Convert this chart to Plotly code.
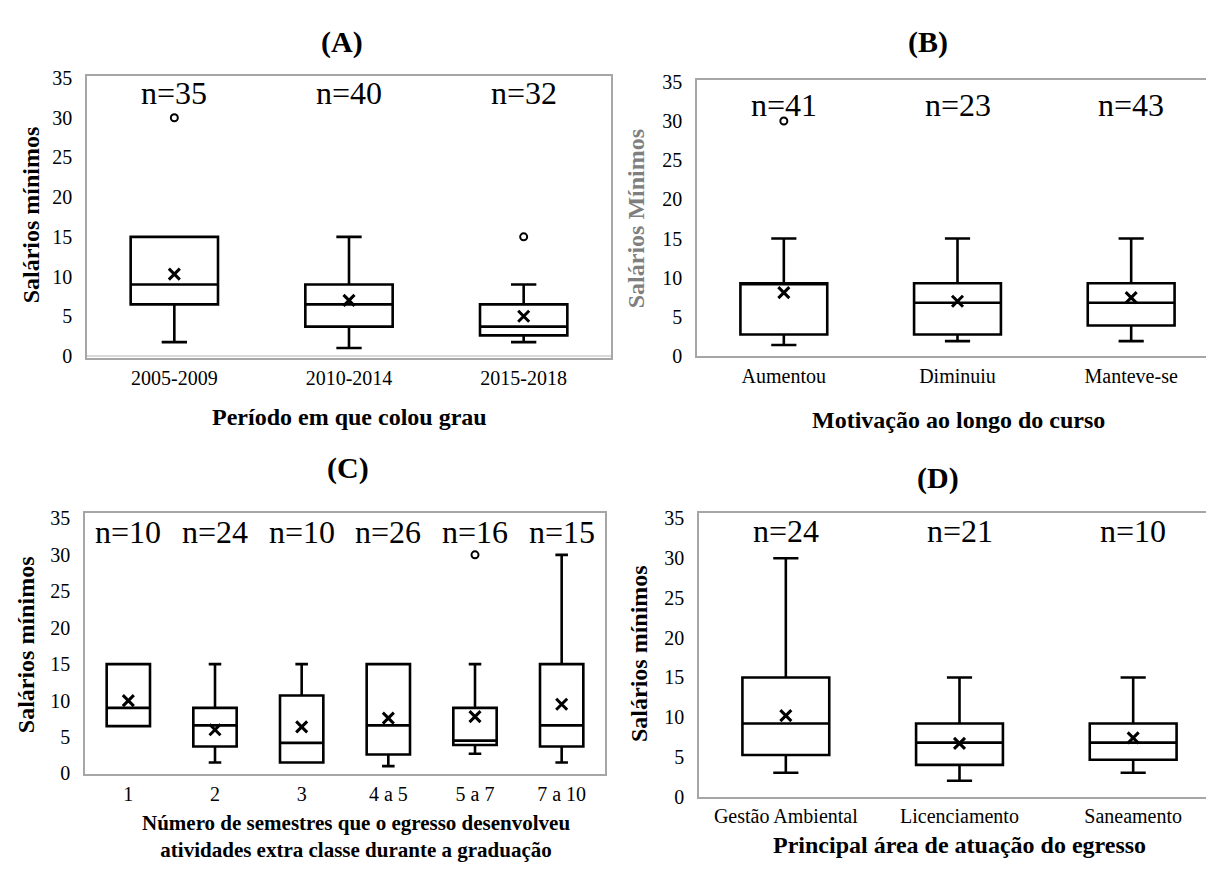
import plotly.graph_objects as go

W, H = 1214, 870

# ---------------- data ----------------
# Panel A
cat_a = ["2005-2009", "2010-2014", "2015-2018"]
q1_a = [6.5, 3.7, 2.6]
med_a = [9.0, 6.5, 3.7]
q3_a = [15.0, 9.0, 6.5]
lo_a = [1.75, 1.0, 1.75]
hi_a = [15.0, 15.0, 9.0]
mean_a = [10.3, 7.0, 5.0]
out_x_a = ["2005-2009", "2015-2018"]
out_y_a = [30.0, 15.0]
n_a = ["n=35", "n=40", "n=32"]

# Panel B
cat_b = ["Aumentou", "Diminuiu", "Manteve-se"]
q1_b = [2.75, 2.75, 3.9]
med_b = [9.3, 6.8, 6.8]
q3_b = [9.3, 9.3, 9.3]
lo_b = [1.4, 1.9, 1.9]
hi_b = [15.0, 15.0, 15.0]
mean_b = [8.1, 7.0, 7.45]
out_x_b = ["Aumentou"]
out_y_b = [30.0]
n_b = ["n=41", "n=23", "n=43"]

# Panel C
cat_c = ["1", "2", "3", "4 a 5", "5 a 7", "7 a 10"]
q1_c = [6.5, 3.7, 1.5, 2.6, 3.9, 3.7]
med_c = [9.0, 6.6, 4.2, 6.6, 4.5, 6.6]
q3_c = [15.0, 9.0, 10.7, 15.0, 9.0, 15.0]
lo_c = [6.5, 1.5, 1.5, 1.0, 2.7, 1.5]
hi_c = [15.0, 15.0, 15.0, 15.0, 15.0, 30.0]
mean_c = [10.0, 6.0, 6.4, 7.6, 7.8, 9.5]
out_x_c = ["5 a 7"]
out_y_c = [30.0]
n_c = ["n=10", "n=24", "n=10", "n=26", "n=16", "n=15"]

# Panel D
cat_d = ["Gestão Ambiental", "Licenciamento", "Saneamento"]
q1_d = [5.25, 4.0, 4.65]
med_d = [9.2, 6.8, 6.8]
q3_d = [15.0, 9.2, 9.2]
lo_d = [3.0, 2.0, 3.0]
hi_d = [30.0, 15.0, 15.0]
mean_d = [10.2, 6.7, 7.4]
out_x_d = []
out_y_d = []
n_d = ["n=24", "n=21", "n=10"]

y_ticks = [0, 5, 10, 15, 20, 25, 30, 35]

# ---------------- figure ----------------
FONT = "Liberation Serif, Times New Roman, serif"


def px(x):
    return x / W


def py(y):
    return 1 - y / H


fig = go.Figure()

panels = [
    # suffix, cats, q1, med, q3, lo, hi, mean, outx, outy, n, frame(x0,x1,y0,y1), yrange, n_y, tickfont
    ("", cat_a, q1_a, med_a, q3_a, lo_a, hi_a, mean_a, out_x_a, out_y_a, n_a,
     (79, 603, 60, 349), [-0.25, 35.3], 33.1, 20),
    ("2", cat_b, q1_b, med_b, q3_b, lo_b, hi_b, mean_b, out_x_b, out_y_b, n_b,
     (689, 1210, 64, 347), [0.0, 35.3], 32.0, 20),
    ("3", cat_c, q1_c, med_c, q3_c, lo_c, hi_c, mean_c, out_x_c, out_y_c, n_c,
     (77, 597, 508, 775), [-0.1, 35.7], 33.2, 20),
    ("4", cat_d, q1_d, med_d, q3_d, lo_d, hi_d, mean_d, out_x_d, out_y_d, n_d,
     (691, 1212, 508, 798), [0.0, 35.65], 33.4, 20),
]

annotations = []
layout_axes = {}
for (sfx, cats, q1, med, q3, lo, hi, mean, ox, oy, nl, frame, yr, ny, tf) in panels:
    xa, ya = "x" + sfx, "y" + sfx
    fig.add_trace(go.Box(
        x=cats, q1=q1, median=med, q3=q3, lowerfence=lo, upperfence=hi,
        width=0.5, whiskerwidth=0.29, fillcolor="white",
        line=dict(color="black", width=2.6), boxpoints=False,
        xaxis=xa, yaxis=ya, showlegend=False,
    ))
    fig.add_trace(go.Scatter(
        x=cats, y=mean, mode="markers",
        marker=dict(symbol="x-thin", size=11, color="black",
                    line=dict(color="black", width=3)),
        xaxis=xa, yaxis=ya, showlegend=False,
    ))
    if ox:
        fig.add_trace(go.Scatter(
            x=ox, y=oy, mode="markers",
            marker=dict(symbol="circle-open", size=7, color="black",
                        line=dict(color="black", width=2)),
            xaxis=xa, yaxis=ya, showlegend=False,
        ))
    for i, t in enumerate(nl):
        annotations.append(dict(x=i, y=ny, xref=xa, yref=ya, text=t,
                                showarrow=False,
                                font=dict(family=FONT, size=32, color="black")))
    x0, x1, y0, y1 = frame
    layout_axes["xaxis" + sfx] = dict(
        domain=[px(x0), px(x1)], anchor=ya, type="category",
        range=[-0.5, len(cats) - 0.5], showgrid=False, zeroline=False,
        showline=True, mirror=True, linecolor="#a6a6a6", linewidth=1.5,
        ticks="", ticklabelstandoff=1,
        tickfont=dict(family=FONT, size=tf, color="black"), fixedrange=True,
    )
    layout_axes["yaxis" + sfx] = dict(
        domain=[py(y1), py(y0)], anchor=xa, range=yr, tickvals=y_ticks,
        showgrid=False, zeroline=True, zerolinecolor="#d9d9d9", zerolinewidth=2,
        showline=True, mirror=True, linecolor="#a6a6a6", linewidth=1.5,
        ticks="", ticklabelstandoff=9,
        tickfont=dict(family=FONT, size=20, color="black"), fixedrange=True,
    )


def txt(x, y, text, size, bold=True, angle=0, color="black"):
    annotations.append(dict(
        x=px(x), y=py(y), xref="paper", yref="paper",
        text=("<b>%s</b>" % text) if bold else text, showarrow=False,
        textangle=angle, xanchor="center", yanchor="middle",
        font=dict(family=FONT, size=size, color=color)))


# panel titles
txt(334, 26, "(A)", 30)
txt(920, 26, "(B)", 30)
txt(340, 462, "(C)", 30)
txt(930, 472, "(D)", 30)

# y-axis titles
txt(23, 203, "Salários mínimos", 24, angle=-90)
txt(628, 207, "Salários Mínimos", 24, angle=-90, color="#7f7f7f")
txt(18, 643, "Salários mínimos", 24, angle=-90)
txt(631, 652, "Salários mínimos", 24, angle=-90)

# x-axis titles
txt(341, 409, "Período em que colou grau", 24)
txt(950, 412, "Motivação ao longo do curso", 24)
txt(348, 839, "Número de semestres que o egresso desenvolveu<br>"
              "atividades extra classe durante a graduação", 21)
txt(951, 847, "Principal área de atuação do egresso", 24)

fig.update_layout(
    width=W, height=H,
    margin=dict(l=0, r=0, t=0, b=0),
    paper_bgcolor="white", plot_bgcolor="white",
    boxmode="overlay", showlegend=False,
    annotations=annotations,
    font=dict(family=FONT, color="black"),
    **layout_axes,
)

fig.write_html("out.html")
